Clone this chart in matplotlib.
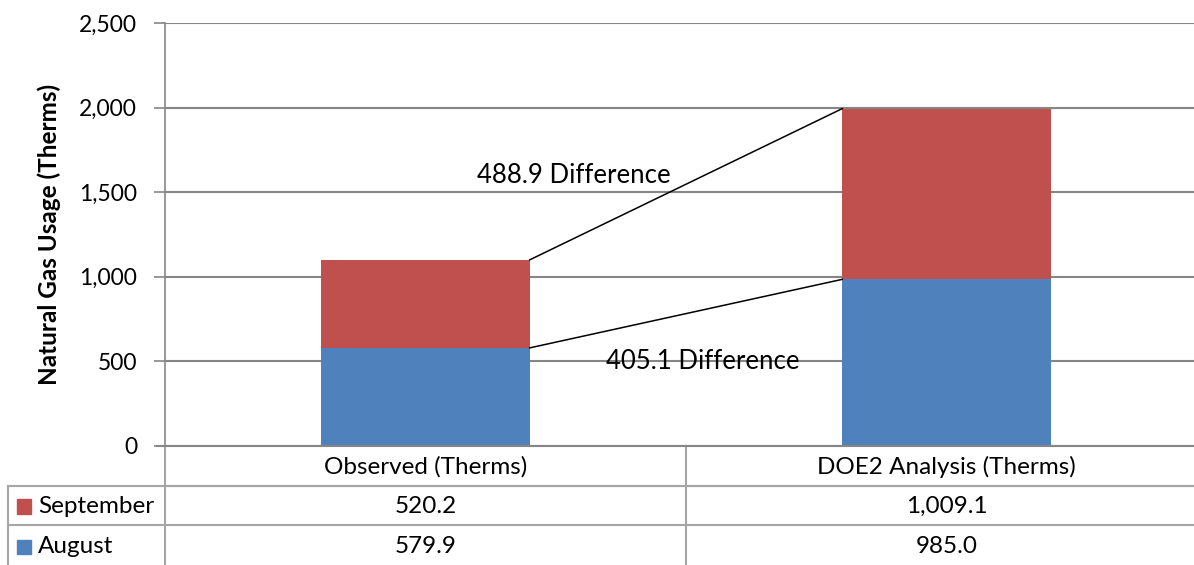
import matplotlib
matplotlib.use("Agg")
import matplotlib.pyplot as plt
from matplotlib.lines import Line2D

plt.rcParams['font.family'] = ['Lato', 'DejaVu Sans']

categories = ["Observed (Therms)", "DOE2 Analysis (Therms)"]
series_names = ["September", "August"]
august = [579.9, 985.0]
september = [520.2, 1009.1]
diff_labels = ["488.9 Difference", "405.1 Difference"]
y_ticks = [0, 500, 1000, 1500, 2000, 2500]

blue = "#4F81BD"
red = "#C0504D"
grid_c = "#868686"
tbl_c = "#A6A6A6"

W, H = 1194, 565
fig = plt.figure(figsize=(W / 100, H / 100), dpi=100)

def fx(px):
    return px / W

def fy(py):
    return 1 - py / H

ax_l, ax_r, ax_t, ax_b = 165, 1207, 23, 446
ax = fig.add_axes([fx(ax_l), fy(ax_b), fx(ax_r - ax_l), fy(ax_t) - fy(ax_b)])

x = [0, 1]
width = 0.4
ax.bar(x, august, width, color=blue, zorder=3)
tops = [a + s for a, s in zip(august, september)]
ax.bar(x, september, width, bottom=august, color=red, zorder=3)

# connector lines between the bar edges
ax.plot([x[0] + width / 2, x[1] - width / 2], [tops[0], tops[1]], color="black", lw=1.1, zorder=4)
ax.plot([x[0] + width / 2, x[1] - width / 2], [august[0], august[1]], color="black", lw=1.1, zorder=4)

ax.text(0.284, 1601, diff_labels[0], fontsize=18.5, ha="center", va="center", zorder=5)
ax.text(0.533, 502, diff_labels[1], fontsize=18.5, ha="center", va="center", zorder=5)

ax.set_xlim(-0.5, 1.5)
ax.set_ylim(0, 2500)
ax.set_yticks(y_ticks)
ax.set_yticklabels([f"{v:,}" for v in y_ticks], fontsize=16.5)
ax.set_xticks([])
ax.yaxis.grid(True, color=grid_c, lw=1.5, zorder=0)
ax.tick_params(axis="y", length=8, width=1.2, color=grid_c, pad=12)
for side in ["top", "right", "bottom"]:
    ax.spines[side].set_visible(False)
ax.spines["left"].set_color(grid_c)
ax.spines["left"].set_linewidth(1.2)
ax.set_ylabel("Natural Gas Usage (Therms)", fontsize=17.5, fontweight="bold", labelpad=13)

# data table beneath the axes
col_div = 686
row_y = [446, 486, 525, 566]
lines = [
    ((ax_l, ax_r), (row_y[1], row_y[1])),
    ((8, ax_r), (row_y[1], row_y[1])),
    ((8, ax_r), (row_y[2], row_y[2])),
    ((8, 8), (row_y[1], row_y[3])),
    ((ax_l, ax_l), (ax_b, row_y[3])),
    ((col_div, col_div), (ax_b, row_y[3])),
]
for (xs, ys) in lines:
    fig.add_artist(Line2D([fx(v) for v in xs], [fy(v) for v in ys], color=tbl_c, lw=1.5))
fig.add_artist(Line2D([fx(157), fx(ax_r)], [fy(ax_b), fy(ax_b)], color=grid_c, lw=1.5))

col_centers = [(ax_l + col_div) / 2, (col_div + ax_r) / 2]
for cx, cat in zip(col_centers, categories):
    fig.text(fx(cx), fy((row_y[0] + row_y[1]) / 2 + 1), cat, fontsize=17.5, ha="center", va="center")

rows = [(series_names[0], september, red), (series_names[1], august, blue)]
for i, (name, vals, col) in enumerate(rows):
    yc = (row_y[i + 1] + row_y[i + 2]) / 2 + 1
    fig.add_artist(plt.Rectangle((fx(17), fy(yc + 7)), fx(14), fy(yc - 7) - fy(yc + 7), color=col))
    fig.text(fx(38), fy(yc), name, fontsize=17.5, ha="left", va="center")
    for cx, v in zip(col_centers, vals):
        fig.text(fx(cx), fy(yc), f"{v:,.1f}", fontsize=17.5, ha="center", va="center")

fig.savefig("out.png", dpi=100)
